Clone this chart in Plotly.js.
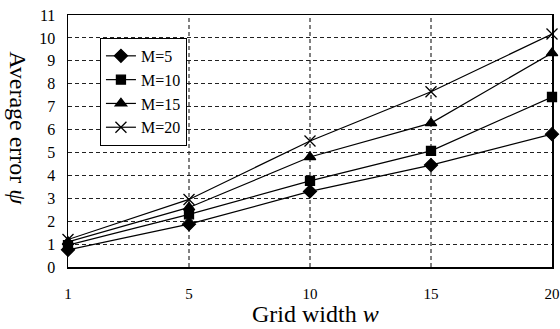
<!DOCTYPE html>
<html><head><meta charset="utf-8">
<script src="https://cdn.plot.ly/plotly-3.0.1.min.js"></script>
<style>html,body{margin:0;padding:0;background:#fff}</style>
</head><body>
<div id="chart" style="width:560px;height:329px"></div>
<script>
const categories = ["1", "5", "10", "15", "20"];
const seriesNames = ["M=5", "M=10", "M=15", "M=20"];
const m5 = [0.75, 1.87, 3.3, 4.45, 5.8];
const m10 = [0.95, 2.3, 3.76, 5.07, 7.42];
const m15 = [1.1, 2.6, 4.8, 6.28, 9.34];
const m20 = [1.2, 2.95, 5.5, 7.65, 10.17];
const yTicks = [0,1,2,3,4,5,6,7,8,9,10,11];

const xIdx = categories.map((c, i) => i);
const symbols = ["diamond", "square", "triangle-up", "x-thin-open"];
const sizes = [10, 9, 10, 11];
const data = [m5, m10, m15, m20].map((ys, k) => ({
  type: "scatter", mode: "lines+markers", name: seriesNames[k],
  x: xIdx, y: ys,
  line: {color: "#000", width: 1.2},
  marker: {symbol: symbols[k], size: sizes[k], color: "#000", line: {color: "#000", width: 1.3}},
  cliponaxis: false
}));

const shapes = [];
for (let i = 1; i < categories.length - 1; i++) {
  shapes.push({type: "line", xref: "x", yref: "paper", x0: i, x1: i, y0: 0, y1: 1,
    line: {color: "#000", width: 1, dash: "4px,3px"}, layer: "below"});
}

const serif = "Liberation Serif";
const layout = {
  width: 560, height: 329,
  margin: {l: 68, r: 8, t: 15, b: 62},
  paper_bgcolor: "#fff", plot_bgcolor: "#fff",
  showlegend: true,
  font: {family: serif, color: "#000", size: 16},
  xaxis: {
    range: [0, categories.length - 1], tickmode: "array", tickvals: xIdx, ticktext: categories,
    showgrid: false, zeroline: false, showline: true, mirror: true, linecolor: "#000", linewidth: 1.5,
    ticks: "", ticklabelstandoff: 12, tickfont: {size: 15, family: serif}
  },
  yaxis: {
    range: [0, 11], tickmode: "array", tickvals: yTicks,
    showgrid: true, gridcolor: "#222", griddash: "4px,3px", gridwidth: 1,
    zeroline: false, showline: true, mirror: true, linecolor: "#000", linewidth: 1.5,
    ticks: "", tickfont: {size: 16, family: serif}, ticklabelstandoff: 8
  },
  legend: {
    x: 0.066, y: 0.909, xanchor: "left", yanchor: "top",
    bordercolor: "#000", borderwidth: 1, bgcolor: "#fff",
    font: {size: 16, family: serif}, itemwidth: 30, tracegroupgap: 0
  },
  shapes: shapes,
  annotations: [{
    text: "Average error <i>ψ</i>", textangle: 90, xref: "paper", yref: "paper",
    x: -0.105, y: 0.55, xanchor: "center", yanchor: "middle", showarrow: false,
    font: {size: 24, family: serif, color: "#000"}
  }, {
    text: "Grid width <i>w</i>", xref: "paper", yref: "paper",
    x: 0.512, y: -0.188, xanchor: "center", yanchor: "middle", showarrow: false,
    font: {size: 24, family: serif, color: "#000"}
  }]
};
Plotly.newPlot("chart", data, layout, {displayModeBar: false, staticPlot: true});
</script>
</body></html>
